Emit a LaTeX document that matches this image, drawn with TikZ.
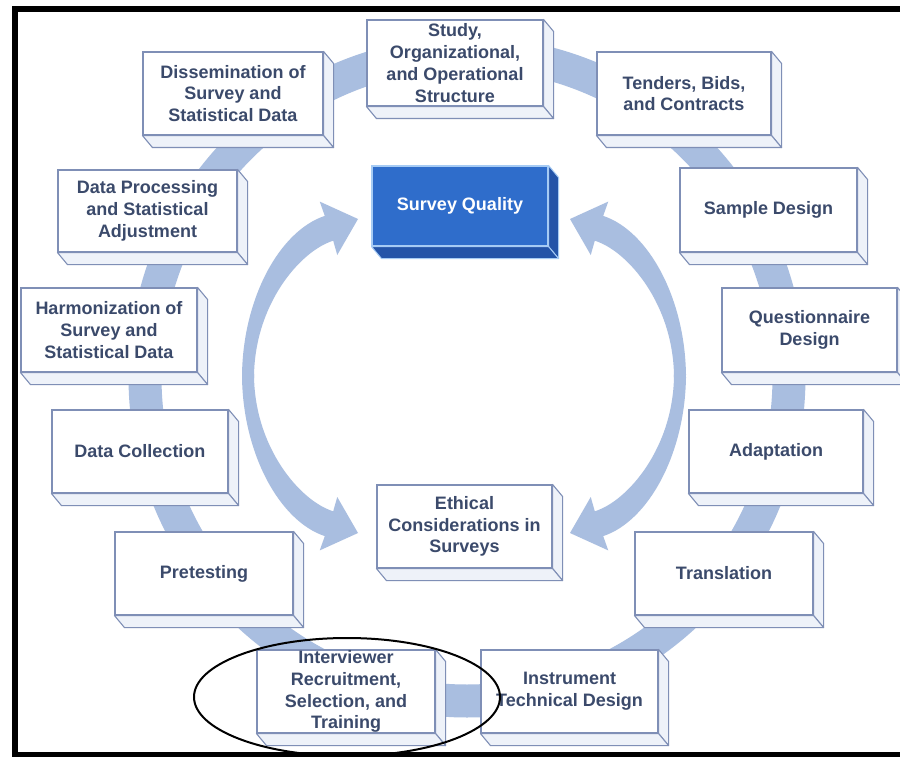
\documentclass[tikz,border=0pt]{standalone}
\usepackage{fontspec}
\setmainfont{Liberation Sans}
\definecolor{bandc}{HTML}{A9BEE0}
\definecolor{edgec}{HTML}{7F8FB6}
\definecolor{sidec}{HTML}{EEF2F9}
\definecolor{txtc}{HTML}{3B4A6B}
\definecolor{qfront}{HTML}{2F6DCB}
\definecolor{qside}{HTML}{2454A8}
\definecolor{qedge}{HTML}{A6CBF4}
\tikzset{
  stage/.style={draw=edgec, line width=1.1pt, fill=white, text=txtc,
    font=\fontsize{18}{21.8}\selectfont\bfseries, align=center, inner sep=0pt,
    minimum width=176pt, minimum height=83pt},
  face/.style={draw=edgec, line width=1.1pt, fill=sidec, line join=round},
  quality/.style={stage, draw=qedge, fill=qfront, text=white},
  qface/.style={draw=qedge, line width=1pt, fill=qside, line join=round},
  band/.style={draw=bandc, line width=33pt},
  flow/.style={fill=bandc},
  frame/.style={fill=black},
  highlight/.style={draw=black, line width=2pt},
}
\newcommand\depthfaces[2]{%
  \draw[#2] (#1.north east) -- ++(10,12) -- ([shift={(10,12)}]#1.south east) -- (#1.south east) -- cycle;
  \draw[#2] (#1.south west) -- ++(10,12) -- ([shift={(10,12)}]#1.south east) -- (#1.south east) -- cycle;}
\newcommand\bentarrow{%
  \fill[flow] (242,378) .. controls (242,300) and (279,231) .. (324.8,215.9)
    -- (319.75,201.6) -- (358,219) -- (337.25,255) -- (333.2,240.7)
    .. controls (300,251) and (254,305) .. (254,378) -- cycle;}
\begin{document}
\begin{tikzpicture}[x=1pt, y=-1pt]
\useasboundingbox (0,0) rectangle (900,757);
\clip (0,0) rectangle (900,757);
\fill[white] (0,0) rectangle (900,757);
% ring behind the stages
\draw[band] (467,377) ellipse [x radius=322pt, y radius=324pt];
% inner curved arrows
\bentarrow
\begin{scope}[shift={(0,752)}, yscale=-1]\bentarrow\end{scope}
\begin{scope}[shift={(928,0)}, xscale=-1]\bentarrow\end{scope}
\begin{scope}[shift={(928,752)}, xscale=-1, yscale=-1]\bentarrow\end{scope}
% stages
\node[stage, minimum height=86pt] (study) at (455,63) {Study,\\Organizational,\\and Operational\\Structure};
\node[stage, minimum width=174pt] (tenders) at (684,93.5) {Tenders, Bids,\\and Contracts};
\node[stage, minimum width=177pt, minimum height=84pt] (sample) at (768.5,210) {Sample Design};
\node[stage, minimum width=175pt, minimum height=84pt] (quest) at (809.5,330) {Questionnaire\\Design};
\node[stage, minimum width=174pt] (adapt) at (776,451.5) {Adaptation};
\node[stage, minimum width=178pt] (transl) at (724,573.5) {Translation};
\node[stage, minimum width=177pt] (instr) at (569.5,691.5) {Instrument\\Technical Design};
\node[stage, minimum width=178pt] (interv) at (346,691.5) {Interviewer\\Recruitment,\\Selection, and\\Training};
\node[stage, minimum width=178pt] (pretest) at (204,573.5) {Pretesting};
\node[stage] (collect) at (140,451.5) {Data Collection};
\node[stage, minimum height=84pt] (harmon) at (109,330) {Harmonization of\\Survey and\\Statistical Data};
\node[stage, minimum width=179pt, minimum height=82pt] (proc) at (147.5,211) {Data Processing\\and Statistical\\Adjustment};
\node[stage, minimum width=180pt] (dissem) at (233,93.5) {Dissemination of\\Survey and\\Statistical Data};
\node[stage, minimum width=175pt] (ethical) at (464.5,526.5) {Ethical\\Considerations in\\Surveys};
\node[quality, minimum height=80pt] (quality) at (460,206) {Survey Quality};
\foreach \b in {study,tenders,sample,quest,adapt,transl,instr,interv,pretest,collect,harmon,proc,dissem,ethical}{\depthfaces{\b}{face}}
\depthfaces{quality}{qface}
% frame
\fill[frame] (12,6) rectangle (18,757);
\fill[frame] (12,6) rectangle (900,12);
\fill[frame] (12,752) rectangle (900,757);
% highlight ellipse
\draw[highlight] (347,697) ellipse [x radius=153pt, y radius=59pt];
\end{tikzpicture}
\end{document}
